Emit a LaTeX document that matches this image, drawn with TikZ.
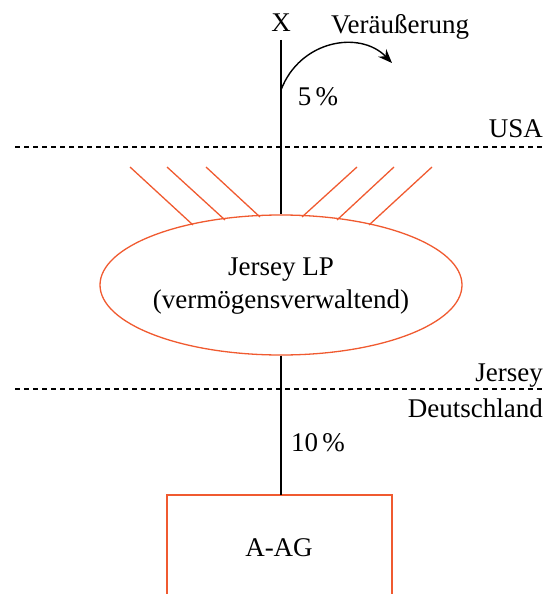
\documentclass[tikz,border=0pt]{standalone}
\usepackage{fontspec}
\setmainfont{Liberation Serif}
\usetikzlibrary{arrows.meta,shapes.geometric}
\definecolor{lineorange}{HTML}{F05A30}
\begin{document}
\begin{tikzpicture}[x=1pt,y=-1pt,
  lbl/.style={inner sep=0pt,font=\fontsize{27}{32}\selectfont},
  orangeline/.style={draw=lineorange,line width=1.3pt},
  blackline/.style={draw=black,line width=1.4pt},
  border/.style={draw=black,line width=1.1pt,dash pattern=on 5pt off 4pt}]
\useasboundingbox (0,0) rectangle (553,594);
% ellipse
\node[ellipse,orangeline,minimum width=362pt,minimum height=140pt,inner sep=0pt] (lp) at (281,285) {};
\node[lbl] (lpt1) at (281,270) {Jersey LP};
\node[lbl] (lpt2) at (281,302) {(vermögensverwaltend)};
% top
\node[lbl,anchor=base] (x) at (281,32) {X};
\coordinate (xtop) at (281,40);
\draw[blackline] (xtop) -- (lp.north);
\coordinate (arcstart) at (281,90);
\coordinate (arcend) at (392,63);
\draw[blackline,-{Stealth[length=14pt,width=11pt]}] (arcstart) .. controls (300,40) and (360,30) .. (arcend);
\node[lbl,anchor=base] (ver) at (400,34) {Veräußerung};
\node[lbl,anchor=base] (p5) at (318,105) {5\,\%};
% USA border
\coordinate (b1l) at (15,147);
\coordinate (b1r) at (543,147);
\draw[border] (b1l) -- (b1r);
\node[lbl,anchor=base east] (usa) at (543,137) {USA};
% rays
\foreach \a/\b/\c/\d in {130/167/193/225, 167/167/225/220, 206/167/260/217, 357/167/302/217, 394/167/337/220, 432/167/369/225}
  \draw[orangeline] (\a,\b) -- (\c,\d);
% Jersey border
\coordinate (b2l) at (15,389);
\coordinate (b2r) at (543,389);
\draw[border] (b2l) -- (b2r);
\node[lbl,anchor=base east] (jer) at (543,381) {Jersey};
\node[lbl,anchor=base east] (de) at (543,417) {Deutschland};
% A-AG box
\coordinate (boxtl) at (167,495);
\coordinate (boxtr) at (392,495);
\coordinate (boxbl) at (167,600);
\coordinate (boxbr) at (392,600);
\draw[orangeline] (boxbl) -- (boxtl) -- (boxtr) -- (boxbr);
\coordinate (boxtop) at (281,495);
\draw[blackline] (lp.south) -- (boxtop);
\node[lbl,anchor=base] (p10) at (318,451) {10\,\%};
\node[lbl] (aag) at (279,548) {A-AG};
\end{tikzpicture}
\end{document}
